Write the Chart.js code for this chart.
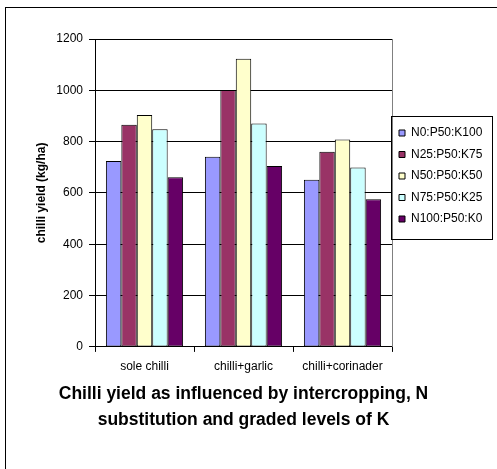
<!DOCTYPE html>
<html>
<head>
<meta charset="utf-8">
<script src="https://cdn.jsdelivr.net/npm/chart.js@4"></script>
<style>
  body { margin: 0; background: #fff; }
  #wrap { width: 497px; height: 469px; }
</style>
</head>
<body>
<div id="wrap"><canvas id="chart" width="497" height="469"></canvas></div>
<script>
// categories and series (kg/ha)
const categories = ['sole chilli', 'chilli+garlic', 'chilli+corinader'];
const seriesNames = ['N0:P50:K100', 'N25:P50:K75', 'N50:P50:K50', 'N75:P50:K25', 'N100:P50:K0'];
const n0 = [725, 741, 651];
const n25 = [866, 1001, 761];
const n50 = [904, 1123, 808];
const n75 = [848, 871, 699];
const n100 = [661, 705, 575];
const yTicks = [0, 200, 400, 600, 800, 1000, 1200];

const colors = ['#9999FF', '#993366', '#FFFFCC', '#CCFFFF', '#660066'];
const FONT = "'Liberation Sans', Arial, sans-serif";

const seriesValues = [n0, n25, n50, n75, n100];

// white bg, outer frame, plot right border and legend frame
const frame = {
  id: 'frame',
  beforeDraw(chart) {
    const ctx = chart.ctx;
    ctx.save();
    ctx.fillStyle = '#fff';
    ctx.fillRect(0, 0, chart.width, chart.height);
    ctx.restore();
  },
  afterLayout(chart) {
    // put the legend where the original had it
    const lg = chart.legend;
    const pad = lg.options.labels.padding;
    const w = lg.width;
    lg.left = 399 - pad;
    lg.right = lg.left + w;
    lg.top = 117.5;
    lg.bottom = lg.top + 150;
  },
  afterDraw(chart) {
    const ctx = chart.ctx;
    const a = chart.chartArea;
    ctx.save();
    ctx.lineWidth = 1;
    ctx.strokeStyle = '#808080';
    ctx.beginPath();
    ctx.moveTo(Math.round(a.right) + 0.5, a.top);
    ctx.lineTo(Math.round(a.right) + 0.5, a.bottom);
    ctx.stroke();
    ctx.strokeStyle = '#000';
    ctx.strokeRect(391.5, 116.5, 101, 123);
    ctx.strokeRect(5.5, 7.5, 600, 600);
    ctx.restore();
  }
};

new Chart(document.getElementById('chart'), {
  type: 'bar',
  data: {
    labels: categories,
    datasets: seriesNames.map((name, i) => ({
      label: name,
      data: seriesValues[i],
      backgroundColor: colors[i],
      borderColor: '#000',
      borderWidth: 1,
      borderSkipped: false,
      categoryPercentage: 0.78,
      barPercentage: 1.0
    }))
  },
  options: {
    responsive: false,
    animation: false,
    devicePixelRatio: 1,
    layout: { padding: { left: 0, top: 39, right: 10, bottom: 0 } },
    plugins: {
      tooltip: { enabled: false },
      legend: {
        position: 'right',
        align: 'start',
        maxWidth: 95,
        labels: {
          boxWidth: 6,
          boxHeight: 6,
          padding: 9.5,
          color: '#000',
          font: { family: FONT, size: 12 }
        }
      },
      title: {
        display: true,
        position: 'bottom',
        text: ['Chilli yield as influenced by intercropping, N', 'substitution and graded levels of K'],
        color: '#000',
        font: { family: FONT, size: 17.5, weight: 'bold', lineHeight: 1.46 },
        padding: { top: 4.75, bottom: 36.25 }
      }
    },
    scales: {
      x: {
        grid: { display: true, drawOnChartArea: false, offset: true, color: '#000', tickLength: 5 },
        border: { color: '#000' },
        ticks: { color: '#000', padding: 7.5, font: { family: FONT, size: 12 }, maxRotation: 0 },
        afterFit(s) { s.height = 30; }
      },
      y: {
        min: 0,
        max: 1200,
        afterBuildTicks(s) { s.ticks = yTicks.map(v => ({ value: v })); },
        grid: { color: '#000', tickLength: 6 },
        border: { color: '#000' },
        ticks: {
          color: '#000',
          padding: 6,
          font: { family: FONT, size: 12 },
          callback: v => String(v)
        },
        title: {
          display: true,
          text: 'chilli yield (kg/ha)',
          color: '#000',
          font: { family: FONT, size: 12, weight: 'bold' },
          padding: { top: 34, bottom: 0 }
        },
        afterFit(s) { s.width = 95; }
      }
    }
  },
  plugins: [frame]
});
</script>
</body>
</html>
